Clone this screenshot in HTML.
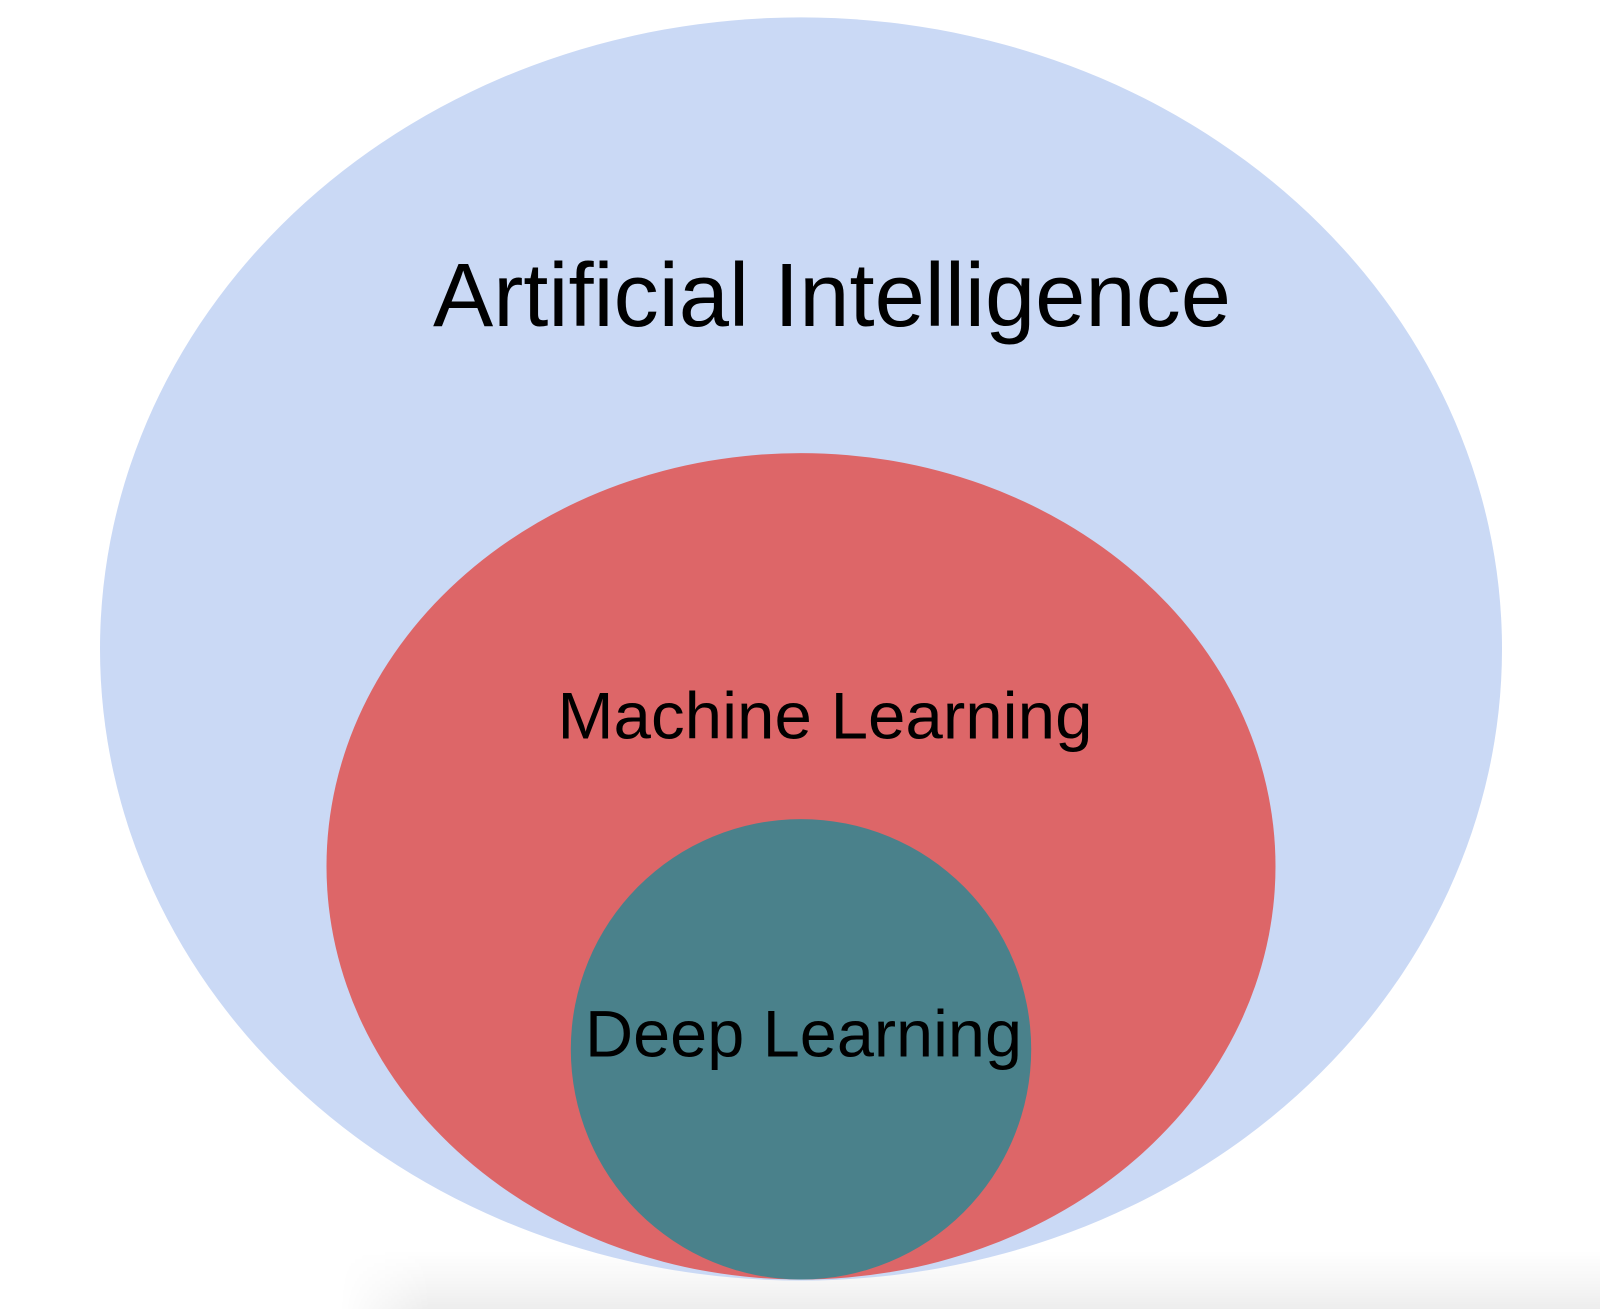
<!DOCTYPE html>
<html>
<head>
<meta charset="utf-8">
<style>
  html, body { margin: 0; padding: 0; width: 1600px; height: 1309px; overflow: hidden; }
  body { background: #ffffff; position: relative; }
  .shadow { position: absolute; left: 340px; top: 1250px; width: 1260px; height: 59px;
    background: linear-gradient(to bottom, rgba(0,0,0,0) 0%, rgba(0,0,0,0.03) 50%, rgba(0,0,0,0.07) 100%);
    -webkit-mask-image: linear-gradient(to right, transparent 0px, #000 90px);
    mask-image: linear-gradient(to right, transparent 0px, #000 90px); }
  svg { position: absolute; left: 0; top: 0; }
  text { font-family: "Liberation Sans", Arial, Helvetica, sans-serif; fill: #000; }
</style>
</head>
<body>
<div class="shadow"></div>
<svg width="1600" height="1309" viewBox="0 0 1600 1309" xmlns="http://www.w3.org/2000/svg">
  <ellipse cx="801" cy="649" rx="701" ry="631.6" fill="#CAD9F5"/>
  <ellipse cx="801" cy="866.3" rx="474.5" ry="413.2" fill="#DD6668"/>
  <circle cx="801" cy="1049.3" r="230.2" fill="#4A818B"/>
  <text x="433" y="326" font-size="90" textLength="798" lengthAdjust="spacingAndGlyphs">Artificial Intelligence</text>
  <text x="557.5" y="738.3" font-size="66.3" textLength="535" lengthAdjust="spacingAndGlyphs">Machine Learning</text>
  <text x="585" y="1056.7" font-size="65.8" textLength="437" lengthAdjust="spacingAndGlyphs">Deep Learning</text>
</svg>
</body>
</html>
